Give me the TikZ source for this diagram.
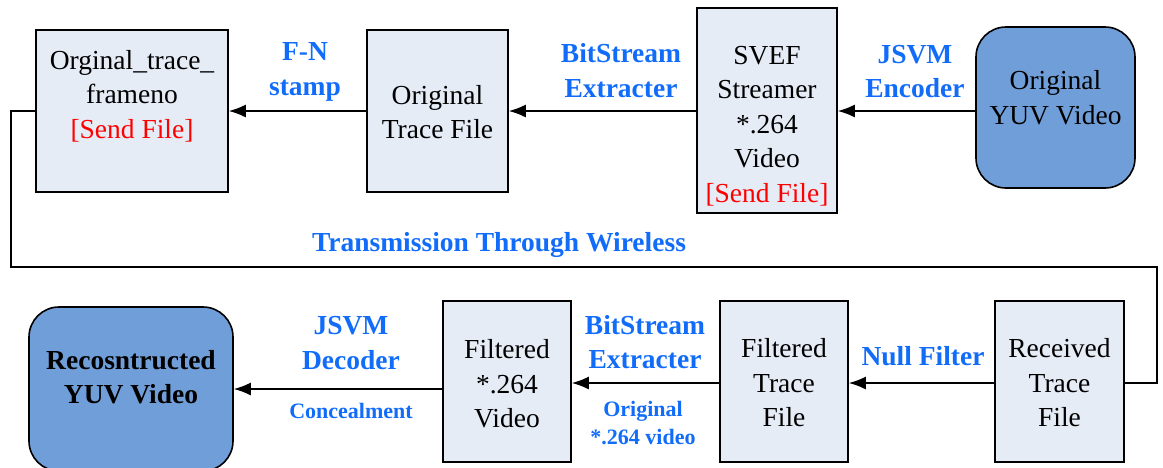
\documentclass[tikz,border=0pt]{standalone}
\usepackage{fontspec}
\setmainfont{Liberation Serif}
\usetikzlibrary{arrows.meta}
\definecolor{lblue}{RGB}{18,108,250}
\definecolor{boxfill}{RGB}{230,236,246}
\definecolor{roundfill}{RGB}{112,158,216}
\definecolor{sendred}{RGB}{255,0,0}
\begin{document}
\begin{tikzpicture}[x=1pt,y=-1pt,
  box/.style={draw=black, line width=1.6pt, fill=boxfill, inner sep=0pt},
  rbox/.style={draw=black, line width=1.6pt, fill=roundfill, inner sep=0pt, rounded corners=30pt},
  txt/.style={align=center, inner sep=0pt, font=\fontsize{27.5}{34.5}\selectfont},
  btxt/.style={txt, font=\fontsize{27.5}{34.5}\selectfont\bfseries},
  lab/.style={align=center, inner sep=0pt, text=lblue, font=\fontsize{27.5}{34.5}\selectfont\bfseries},
  slab/.style={align=center, inner sep=0pt, text=lblue, font=\fontsize{22}{28}\selectfont\bfseries},
  arr/.style={line width=1.6pt, -{Latex[length=17pt,width=13pt]}},
  ln/.style={line width=1.6pt}
]
\useasboundingbox (0,0) rectangle (1163,467);

% boxes
\node[box, minimum width=192pt, minimum height=162pt] (A) at (132,111) {};
\node[box, minimum width=141pt, minimum height=162pt] (B) at (437.5,111) {};
\node[box, minimum width=140pt, minimum height=205pt] (C) at (767,110.5) {};
\node[rbox, minimum width=159pt, minimum height=161pt] (D) at (1055.5,107.5) {};
\node[rbox, minimum width=204pt, minimum height=164pt] (E) at (131,389) {};
\node[box, minimum width=128pt, minimum height=161pt] (F) at (507,381.5) {};
\node[box, minimum width=128pt, minimum height=161pt] (G) at (784,381.5) {};
\node[box, minimum width=129pt, minimum height=161pt] (H) at (1059.5,381.5) {};

% box texts
\node[txt] (At) at (132,96) {Orginal\_trace\_\\frameno\\\textcolor{sendred}{[Send File]}};
\node[txt] (Bt) at (437.5,112) {Original\\Trace File};
\node[txt] (Ct) at (767,126) {SVEF\\Streamer\\*.264\\Video\\\textcolor{sendred}{[Send File]}};
\node[txt] (Dt) at (1055.5,97.5) {Original\\YUV Video};
\node[btxt] (Et) at (131,377) {Recosntructed\\YUV Video};
\node[txt] (Ft) at (507,384) {Filtered\\*.264\\Video};
\node[txt] (Gt) at (784,383) {Filtered\\Trace\\File};
\node[txt] (Ht) at (1059.5,383) {Received\\Trace\\File};

% connectors
\draw[arr] (B.west |- A.east) -- (A.east);
\draw[arr] (C.west |- A.east) -- (B.east);
\draw[arr] (D.west |- A.east) -- (C.east |- A.east);
\coordinate (t1) at (11,111);
\coordinate (t2) at (11,267);
\coordinate (t3) at (1157,267);
\coordinate (t4) at (1157,383);
\draw[ln] (A.west) -- (t1) -- (t2) -- (t3) -- (t4) -- (H.east |- t4);
\draw[arr] (H.west |- t4) -- (G.east |- t4);
\draw[arr] (G.west |- t4) -- (F.east |- t4);
\draw[arr] (F.west |- E.east) -- (E.east);

% labels
\node[lab] (l1) at (305,72) {F-N\\stamp};
\node[lab] (l2) at (621,70.5) {BitStream\\Extracter};
\node[lab] (l3) at (915,71.5) {JSVM\\Encoder};
\node[lab] (l4) at (499,245) {Transmission Through Wireless};
\node[lab] (l5) at (351,343) {JSVM\\Decoder};
\node[slab] (l6) at (351,411) {Concealment};
\node[lab] (l7) at (645,342) {BitStream\\Extracter};
\node[slab] (l8) at (643,423) {Original\\*.264 video};
\node[lab] (l9) at (923,356) {Null Filter};
\end{tikzpicture}
\end{document}
